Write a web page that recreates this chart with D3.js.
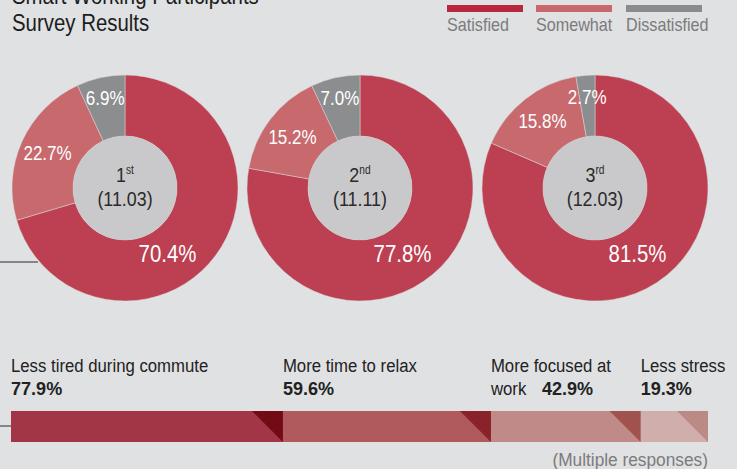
<!DOCTYPE html>
<html>
<head>
<meta charset="utf-8">
<script src="https://cdn.jsdelivr.net/npm/d3@7"></script>
<style>
  body { margin: 0; background: #e0e1e3; }
  svg { display: block; }
  text { font-family: "Liberation Sans", Arial, sans-serif; }
</style>
</head>
<body>
<script>
// survey rounds
const rounds = ["1", "2", "3"];
const roundSuffix = ["st", "nd", "rd"];
const roundDates = ["11.03", "11.11", "12.03"];

// answers per round (%)
const satisfied = [70.4, 77.8, 81.5];
const somewhat = [22.7, 15.2, 15.8];
const dissatisfied = [6.9, 7.0, 2.7];

const answerNames = ["Satisfied", "Somewhat", "Dissatisfied"];

// benefits (multiple responses, %)
const benefits = ["Less tired during commute", "More time to relax", "More focused at work", "Less stress"];
const benefitValues = [77.9, 59.6, 42.9, 19.3];

const W = 737, H = 469;

const svg = d3.select("body").append("svg")
  .attr("width", W)
  .attr("height", H);

svg.append("rect").attr("width", W).attr("height", H).attr("fill", "#e0e1e3");

// title (first line runs off the top)
svg.append("text").attr("x", 12).attr("y", 4)
  .attr("font-size", 24).attr("fill", "#1c1c1c")
  .text("Smart Working Participants");
svg.append("text").attr("x", 12).attr("y", 31)
  .attr("font-size", 24).attr("fill", "#1c1c1c")
  .text("Survey Results");

// legend
const legendColors = ["#b8263f", "#c8676c", "#8b8b8d"];
const legendPos = { "Satisfied": 447, "Somewhat": 536, "Dissatisfied": 626 };

const legend = svg.append("g").selectAll("g")
  .data(answerNames)
  .enter().append("g")
  .attr("transform", function (d) { return "translate(" + legendPos[d] + ",0)"; });

legend.append("rect")
  .attr("y", 5).attr("width", 76).attr("height", 7)
  .attr("fill", function (d, i) { return legendColors[i]; });

legend.append("text")
  .attr("y", 31).attr("font-size", 19).attr("fill", "#7b7b7d")
  .text(function (d) { return d; });

// donuts
const sliceColors = ["#bc4052", "#c7696d", "#8c8d8f"];
const R = 113, r0 = 52;

const cx = d3.scalePoint().domain(rounds).range([125, 595]);
const cy = 188;

const pie = d3.pie().sort(null).value(function (d) { return d; });
const arc = d3.arc().innerRadius(r0).outerRadius(R);

// leader line from the left edge
svg.append("line")
  .attr("x1", 0).attr("x2", 38).attr("y1", 262).attr("y2", 262)
  .attr("stroke", "#2a2a2a").attr("stroke-width", 1);

rounds.forEach(function (round, i) {
  const vals = [satisfied[i], somewhat[i], dissatisfied[i]];
  const g = svg.append("g").attr("transform", "translate(" + cx(round) + "," + cy + ")");
  const arcs = pie(vals);

  g.selectAll("path")
    .data(arcs)
    .enter().append("path")
    .attr("d", arc)
    .attr("fill", function (d, j) { return sliceColors[j]; })
    .attr("stroke", "#d9d9db")
    .attr("stroke-width", 0.5);

  g.append("circle").attr("r", r0).attr("fill", "#c9c9cb");

  // slice labels
  const labelArcs = [
    d3.arc().innerRadius(78).outerRadius(78),
    d3.arc().innerRadius(85).outerRadius(85),
    d3.arc().innerRadius(92).outerRadius(92)
  ];
  g.selectAll("text.pct")
    .data(arcs)
    .enter().append("text")
    .attr("class", "pct")
    .attr("transform", function (d, j) {
      let c;
      if (j === 0) {
        // big slice label sits at lower right
        const a = 147 * Math.PI / 180;
        c = [78 * Math.sin(a), -78 * Math.cos(a)];
      } else {
        c = labelArcs[j].centroid(d);
      }
      return "translate(" + c[0] + "," + c[1] + ")";
    })
    .attr("text-anchor", "middle")
    .attr("dy", "0.36em")
    .attr("font-size", function (d, j) { return j === 0 ? 24 : 20; })
    .attr("fill", "#ffffff")
    .text(function (d) { return d.value.toFixed(1) + "%"; });

  // centre text
  const t = g.append("text").attr("text-anchor", "middle").attr("y", -6)
    .attr("font-size", 21).attr("fill", "#2a2a2a");
  t.append("tspan").text(round);
  t.append("tspan").attr("font-size", 12).attr("dy", -8).text(roundSuffix[i]);

  g.append("text").attr("text-anchor", "middle").attr("y", 18)
    .attr("font-size", 21).attr("fill", "#2a2a2a")
    .text("(" + roundDates[i] + ")");
});

// stacked benefit bar
const barColors = ["#a23647", "#b05a5e", "#c08a89", "#d0aeab"];
const cornerColors = ["#730b17", "#8a2229", "#a0524f", "#bc8a84"];
const barY = 411, barH = 31;

const total = d3.sum(benefitValues);
const x = d3.scaleLinear().domain([0, total]).range([11, 708]);

let acc = 0;
const segs = benefitValues.map(function (v, i) {
  const s = { name: benefits[i], value: v, x0: acc, x1: acc + v, i: i };
  acc += v;
  return s;
});

svg.append("line")
  .attr("x1", 0).attr("x2", 11).attr("y1", 426).attr("y2", 426)
  .attr("stroke", "#2a2a2a").attr("stroke-width", 1);

const bar = svg.append("g");
bar.selectAll("rect")
  .data(segs)
  .enter().append("rect")
  .attr("x", function (d) { return x(d.x0); })
  .attr("y", barY)
  .attr("width", function (d) { return x(d.x1) - x(d.x0); })
  .attr("height", barH)
  .attr("fill", function (d) { return barColors[d.i]; });

bar.selectAll("path")
  .data(segs)
  .enter().append("path")
  .attr("d", function (d) {
    const e = x(d.x1);
    return "M" + (e - barH) + "," + barY + "H" + e + "V" + (barY + barH) + "Z";
  })
  .attr("fill", function (d) { return cornerColors[d.i]; });

// benefit labels
const labels = svg.append("g").selectAll("g")
  .data(segs)
  .enter().append("g")
  .attr("transform", function (d) { return "translate(" + x(d.x0) + ",0)"; });

labels.each(function (d) {
  const g = d3.select(this);
  if (d.i === 2) {
    g.append("text").attr("y", 372).attr("font-size", 18).attr("fill", "#222")
      .attr("data-sq", 0.93).text("More focused at");
    g.append("text").attr("y", 395).attr("font-size", 18).attr("fill", "#222")
      .attr("data-sq", 0.93).text("work");
    g.append("text").attr("x", 51).attr("y", 395).attr("font-size", 19)
      .attr("font-weight", "bold").attr("fill", "#222")
      .attr("data-sq", 0.95).text(d.value.toFixed(1) + "%");
  } else {
    g.append("text").attr("y", 372).attr("font-size", 18).attr("fill", "#222")
      .attr("data-sq", 0.93).text(d.name);
    g.append("text").attr("y", 395).attr("font-size", 19)
      .attr("font-weight", "bold").attr("fill", "#222")
      .attr("data-sq", 0.95).text(d.value.toFixed(1) + "%");
  }
});

svg.append("text")
  .attr("x", 708).attr("y", 466).attr("text-anchor", "end")
  .attr("font-size", 18).attr("fill", "#7b7b7d")
  .attr("data-sq", 0.96)
  .text("(Multiple responses)");

// no condensed font installed: squeeze Liberation Sans horizontally
svg.selectAll("text").each(function () {
  const sq = +(this.getAttribute("data-sq") || 0.85);
  const len = this.getComputedTextLength();
  d3.select(this)
    .attr("textLength", len * sq)
    .attr("lengthAdjust", "spacingAndGlyphs");
});
</script>
</body>
</html>
